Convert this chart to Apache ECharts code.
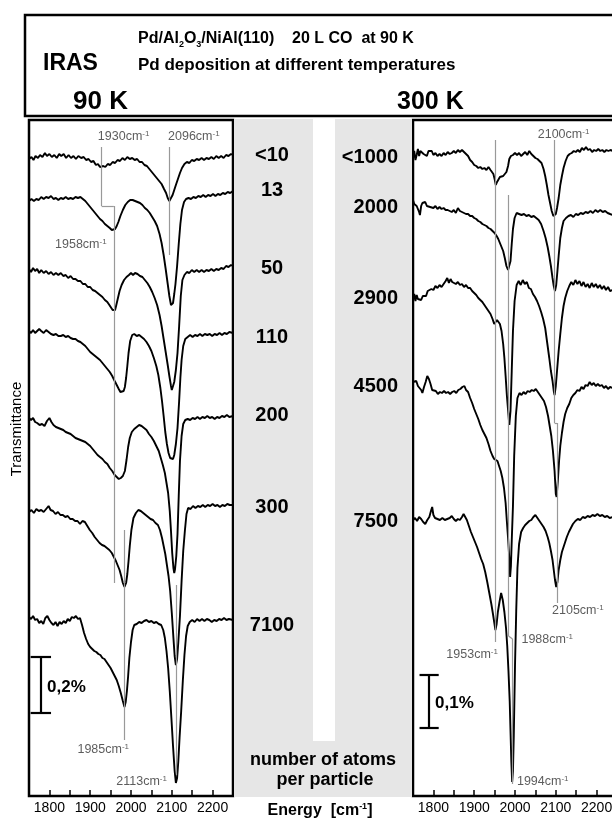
<!DOCTYPE html>
<html lang="en">
<head>
<meta charset="UTF-8"/>
<script src="https://cdn.jsdelivr.net/npm/echarts@6/dist/echarts.min.js"></script>
<title>IRAS Pd/Al2O3/NiAl(110)</title>
<style>
  html, body { margin: 0; padding: 0; background: #fff; }
  #main { width: 612px; height: 819px; }
</style>
</head>
<body>
<div id="main"></div>
<script type="text/javascript">
// wavenumber range of both panels
var wnMin = 1750, wnMax = 2250;

// 90 K deposition, transmittance in arbitrary units (curves offset)
var t90_lt10 = [[1750,637],[1756,639],[1761,636],[1766,640],[1772,638],[1777,641],[1783,639],[1789,643],[1794,640],[1800,642],[1806,639],[1812,641],[1818,638],[1824,642],[1829,640],[1835,642],[1841,638],[1847,641],[1853,638],[1859,640],[1865,637],[1871,640],[1878,638],[1884,639],[1890,636],[1896,637],[1902,634],[1908,635],[1914,631],[1919,632],[1924,629],[1928,627],[1932,630],[1937,629],[1943,632],[1949,631],[1955,634],[1961,633],[1967,636],[1973,635],[1979,638],[1985,636],[1991,639],[1997,637],[2003,638],[2009,636],[2015,637],[2021,634],[2027,634],[2033,631],[2039,630],[2045,627],[2051,624],[2057,621],[2063,618],[2069,615],[2075,612],[2081,607],[2086,603],[2090,598],[2094,595],[2098,597],[2102,601],[2106,606],[2110,611],[2115,617],[2120,623],[2125,628],[2131,632],[2137,634],[2143,633],[2149,636],[2155,635],[2161,637],[2167,636],[2173,638],[2179,636],[2185,638],[2191,637],[2197,639],[2203,637],[2209,640],[2215,638],[2221,640],[2227,638],[2233,641],[2239,640],[2245,642],[2250,641]];
var t90_13 = [[1750,595],[1756,597],[1762,595],[1768,597],[1774,596],[1780,599],[1786,597],[1792,599],[1798,598],[1804,600],[1810,597],[1816,598],[1822,596],[1828,598],[1834,597],[1840,599],[1846,597],[1852,598],[1858,597],[1864,599],[1870,598],[1876,599],[1882,597],[1888,595],[1894,592],[1900,589],[1906,586],[1912,583],[1918,580],[1924,577],[1930,575],[1936,572],[1942,570],[1948,568],[1953,566],[1957,565],[1961,567],[1965,570],[1969,574],[1974,580],[1980,586],[1986,591],[1992,594],[1998,596],[2004,596],[2010,595],[2016,594],[2022,593],[2028,591],[2034,588],[2040,586],[2046,583],[2052,579],[2058,575],[2064,570],[2070,562],[2075,553],[2080,541],[2085,527],[2090,512],[2094,500],[2098,491],[2100,489],[2103,493],[2106,502],[2109,512],[2113,530],[2117,552],[2121,572],[2125,586],[2130,594],[2135,597],[2141,598],[2147,597],[2153,599],[2159,598],[2165,600],[2171,599],[2177,601],[2183,599],[2189,601],[2195,600],[2201,602],[2207,600],[2213,602],[2219,601],[2225,603],[2231,602],[2237,604],[2243,603],[2250,605]];
var t90_50 = [[1750,527],[1755,524],[1760,528],[1765,525],[1770,527],[1775,523],[1780,526],[1786,523],[1792,525],[1798,522],[1804,524],[1810,521],[1816,523],[1822,521],[1828,523],[1834,520],[1840,521],[1846,518],[1852,520],[1858,517],[1864,517],[1870,515],[1876,515],[1882,512],[1888,512],[1894,509],[1900,509],[1906,506],[1912,505],[1918,503],[1924,501],[1930,499],[1936,496],[1942,494],[1947,491],[1951,489],[1955,486],[1958,488],[1961,486],[1964,491],[1968,498],[1972,505],[1977,511],[1983,516],[1989,519],[1995,521],[2000,523],[2005,521],[2010,523],[2016,522],[2022,520],[2028,519],[2034,516],[2040,513],[2046,509],[2052,504],[2058,498],[2064,491],[2070,481],[2075,470],[2080,457],[2085,444],[2090,431],[2094,420],[2098,410],[2100,406],[2103,408],[2106,414],[2110,426],[2114,443],[2118,470],[2122,500],[2126,516],[2131,521],[2137,524],[2143,523],[2149,526],[2155,524],[2161,526],[2167,524],[2173,526],[2179,524],[2185,526],[2191,525],[2197,527],[2203,525],[2209,527],[2215,526],[2221,528],[2227,527],[2233,530],[2239,529],[2245,531],[2250,530]];
var t90_110 = [[1750,465],[1755,463],[1760,466],[1765,463],[1770,465],[1775,467],[1780,465],[1786,463],[1792,466],[1798,464],[1804,462],[1810,461],[1816,462],[1822,460],[1828,460],[1834,461],[1840,459],[1846,460],[1852,458],[1858,457],[1864,457],[1870,455],[1876,454],[1882,452],[1888,450],[1894,447],[1900,444],[1906,442],[1912,440],[1918,438],[1924,436],[1930,433],[1936,430],[1942,427],[1948,424],[1954,420],[1960,415],[1965,411],[1970,407],[1974,404],[1978,403],[1982,405],[1985,409],[1988,418],[1991,430],[1994,443],[1998,455],[2003,461],[2008,462],[2014,460],[2020,461],[2026,459],[2032,457],[2038,454],[2044,450],[2050,445],[2056,438],[2062,430],[2067,421],[2072,408],[2076,395],[2080,380],[2084,364],[2088,352],[2092,343],[2096,338],[2100,336],[2103,337],[2106,341],[2110,352],[2114,368],[2118,395],[2121,418],[2124,436],[2128,450],[2133,457],[2139,459],[2145,461],[2151,459],[2157,461],[2163,460],[2169,462],[2175,460],[2181,462],[2187,461],[2193,462],[2199,460],[2205,462],[2211,461],[2217,463],[2223,461],[2229,463],[2235,462],[2241,464],[2250,463]];
var t90_200 = [[1750,378],[1755,376],[1760,378],[1765,374],[1770,373],[1776,371],[1782,372],[1788,370],[1794,375],[1800,378],[1805,374],[1810,371],[1816,369],[1822,368],[1828,367],[1834,366],[1840,364],[1846,363],[1852,362],[1858,360],[1864,358],[1870,357],[1876,356],[1882,355],[1888,354],[1894,352],[1900,350],[1906,347],[1912,344],[1918,341],[1924,339],[1930,337],[1936,334],[1942,332],[1948,328],[1954,325],[1960,321],[1965,319],[1970,317],[1975,318],[1980,320],[1985,325],[1989,336],[1993,349],[1997,358],[2002,364],[2008,367],[2014,369],[2020,371],[2026,370],[2032,368],[2038,366],[2044,362],[2050,359],[2056,355],[2062,350],[2068,345],[2073,338],[2078,331],[2083,323],[2087,313],[2091,303],[2095,285],[2098,265],[2101,243],[2104,228],[2106,223],[2108,227],[2111,240],[2114,262],[2117,300],[2120,335],[2124,360],[2128,372],[2133,376],[2139,377],[2145,376],[2151,378],[2157,377],[2163,379],[2169,377],[2175,379],[2181,378],[2187,380],[2193,378],[2199,379],[2205,377],[2211,379],[2217,378],[2223,380],[2229,379],[2235,381],[2241,379],[2250,380]];
var t90_300 = [[1750,284],[1756,286],[1762,283],[1768,287],[1774,285],[1780,286],[1786,284],[1792,287],[1798,290],[1803,286],[1809,285],[1815,282],[1821,284],[1827,281],[1833,281],[1839,279],[1845,280],[1851,277],[1857,277],[1863,275],[1869,275],[1875,272],[1881,275],[1887,274],[1893,270],[1899,266],[1905,263],[1911,259],[1917,256],[1923,253],[1929,251],[1935,250],[1941,248],[1947,246],[1953,243],[1958,239],[1963,235],[1968,230],[1972,226],[1976,220],[1980,213],[1984,209],[1988,213],[1991,222],[1994,235],[1997,250],[2001,266],[2006,278],[2012,283],[2018,286],[2024,285],[2030,283],[2036,281],[2042,279],[2048,277],[2054,276],[2060,273],[2066,271],[2071,266],[2076,258],[2080,250],[2084,242],[2088,231],[2092,220],[2096,205],[2100,183],[2104,158],[2107,140],[2110,131],[2113,137],[2116,154],[2120,180],[2124,215],[2128,245],[2132,265],[2136,282],[2140,288],[2146,287],[2152,290],[2158,288],[2164,290],[2170,289],[2176,291],[2182,289],[2188,291],[2194,290],[2200,292],[2206,290],[2212,291],[2218,289],[2224,291],[2230,290],[2236,292],[2242,291],[2250,291]];
var t90_7100 = [[1750,179],[1755,177],[1760,180],[1765,176],[1770,177],[1775,173],[1780,175],[1785,172],[1790,178],[1795,180],[1800,176],[1805,173],[1810,171],[1815,174],[1820,170],[1825,174],[1830,172],[1835,175],[1840,173],[1845,177],[1850,175],[1855,179],[1860,178],[1865,180],[1870,177],[1875,178],[1880,171],[1885,163],[1890,157],[1895,152],[1900,149],[1905,147],[1910,145],[1915,144],[1920,142],[1925,141],[1930,138],[1935,137],[1940,134],[1945,131],[1950,128],[1955,124],[1960,120],[1965,116],[1970,110],[1975,103],[1980,95],[1984,89],[1987,94],[1990,105],[1993,120],[1996,138],[2000,154],[2004,166],[2008,171],[2014,172],[2020,174],[2026,173],[2032,175],[2038,176],[2044,174],[2050,175],[2056,173],[2062,174],[2068,172],[2074,171],[2079,166],[2083,158],[2087,145],[2091,128],[2095,105],[2099,78],[2103,50],[2107,25],[2110,13],[2113,18],[2116,35],[2119,58],[2123,85],[2127,115],[2131,141],[2135,160],[2139,170],[2144,174],[2150,176],[2156,174],[2162,177],[2168,175],[2174,177],[2180,175],[2186,177],[2192,176],[2198,174],[2204,176],[2210,175],[2216,177],[2222,176],[2228,178],[2234,176],[2240,177],[2250,176]];

// 300 K deposition
var t300_lt1000 = [[1750,638],[1753,645],[1756,636],[1759,641],[1762,647],[1765,640],[1768,645],[1772,646],[1776,642],[1780,644],[1784,640],[1788,645],[1792,643],[1796,645],[1800,641],[1805,643],[1810,640],[1815,642],[1820,640],[1825,643],[1830,641],[1835,644],[1840,642],[1845,643],[1850,645],[1855,643],[1860,646],[1865,644],[1870,646],[1875,644],[1880,642],[1885,640],[1890,636],[1895,634],[1900,631],[1905,630],[1910,628],[1915,629],[1920,627],[1925,628],[1930,626],[1935,629],[1940,626],[1944,627],[1947,622],[1950,617],[1953,611],[1956,614],[1959,616],[1963,619],[1967,618],[1971,620],[1975,621],[1979,624],[1983,630],[1986,637],[1990,640],[1995,641],[2000,643],[2005,641],[2010,643],[2015,640],[2020,642],[2025,644],[2030,641],[2035,645],[2040,642],[2045,640],[2050,638],[2055,637],[2060,635],[2065,633],[2070,627],[2074,620],[2078,611],[2082,601],[2086,593],[2090,585],[2094,580],[2097,578],[2100,582],[2103,588],[2107,598],[2111,611],[2115,620],[2119,628],[2124,635],[2129,640],[2134,642],[2139,643],[2144,645],[2149,644],[2154,646],[2159,644],[2164,648],[2169,646],[2174,649],[2179,646],[2184,647],[2189,644],[2194,646],[2199,645],[2204,647],[2209,645],[2214,646],[2219,644],[2224,646],[2229,645],[2234,646],[2240,645],[2250,645]];
var t300_2000 = [[1750,596],[1753,592],[1756,594],[1759,590],[1762,588],[1765,584],[1767,581],[1770,590],[1773,593],[1776,592],[1780,594],[1784,590],[1788,592],[1792,589],[1796,591],[1800,588],[1805,590],[1810,587],[1815,589],[1820,587],[1825,588],[1830,586],[1835,586],[1840,585],[1845,584],[1850,586],[1855,583],[1860,588],[1865,585],[1870,584],[1875,583],[1880,582],[1885,582],[1890,580],[1895,580],[1900,578],[1905,577],[1910,575],[1915,574],[1920,572],[1925,571],[1930,570],[1935,568],[1940,567],[1945,565],[1950,563],[1955,560],[1959,557],[1963,553],[1967,549],[1971,545],[1975,538],[1979,530],[1983,526],[1986,525],[1989,535],[1992,552],[1995,567],[1999,578],[2004,583],[2010,582],[2016,581],[2022,582],[2028,580],[2034,581],[2040,579],[2046,580],[2052,578],[2058,576],[2064,572],[2070,565],[2075,558],[2080,549],[2084,540],[2088,530],[2092,518],[2095,510],[2098,505],[2101,511],[2104,525],[2107,540],[2111,558],[2115,568],[2119,575],[2125,578],[2131,580],[2137,581],[2143,579],[2149,582],[2155,581],[2161,583],[2167,582],[2173,584],[2179,583],[2185,585],[2191,583],[2197,586],[2203,584],[2209,586],[2215,584],[2221,585],[2227,583],[2233,582],[2240,581],[2250,581]];
var t300_2900 = [[1750,496],[1753,502],[1756,495],[1759,501],[1762,497],[1766,499],[1770,496],[1774,500],[1778,502],[1782,500],[1786,505],[1790,503],[1795,507],[1800,506],[1805,510],[1810,508],[1815,511],[1820,509],[1825,512],[1830,515],[1834,518],[1838,513],[1842,517],[1846,514],[1850,516],[1855,512],[1860,514],[1865,511],[1870,512],[1875,509],[1880,511],[1885,508],[1890,508],[1895,505],[1900,503],[1905,501],[1910,498],[1915,496],[1920,494],[1925,491],[1930,488],[1935,485],[1940,482],[1945,477],[1949,472],[1952,470],[1956,476],[1959,478],[1963,472],[1967,465],[1971,452],[1974,438],[1977,420],[1980,401],[1983,386],[1986,371],[1989,385],[1992,425],[1995,465],[1999,495],[2004,511],[2009,515],[2014,511],[2019,516],[2024,512],[2029,514],[2034,508],[2039,507],[2044,502],[2049,499],[2054,495],[2059,490],[2064,484],[2069,477],[2074,468],[2079,453],[2084,438],[2088,425],[2092,415],[2095,405],[2097,401],[2100,410],[2103,425],[2107,445],[2111,462],[2115,478],[2119,490],[2123,498],[2128,505],[2133,510],[2138,514],[2143,511],[2148,516],[2153,512],[2158,515],[2163,510],[2168,514],[2173,509],[2178,512],[2183,508],[2188,513],[2193,509],[2198,512],[2203,508],[2208,511],[2213,507],[2218,510],[2223,506],[2228,509],[2233,505],[2240,506],[2250,505]];
var t300_4500 = [[1750,414],[1754,412],[1758,415],[1762,410],[1766,411],[1770,406],[1773,403],[1777,409],[1781,414],[1785,420],[1789,417],[1793,412],[1797,406],[1801,404],[1806,405],[1811,402],[1816,404],[1821,403],[1826,405],[1831,403],[1836,404],[1841,402],[1846,404],[1851,405],[1856,403],[1861,406],[1866,407],[1871,409],[1876,410],[1880,406],[1885,404],[1890,398],[1895,393],[1900,387],[1905,382],[1910,377],[1915,371],[1920,366],[1925,362],[1930,358],[1935,352],[1940,345],[1945,340],[1949,337],[1953,338],[1957,335],[1961,330],[1965,325],[1969,318],[1973,308],[1977,293],[1980,275],[1983,258],[1986,238],[1988,219],[1990,230],[1992,255],[1995,290],[1998,340],[2002,380],[2006,398],[2011,403],[2016,401],[2021,404],[2026,402],[2031,405],[2036,404],[2041,406],[2046,405],[2051,407],[2056,404],[2061,401],[2066,398],[2071,395],[2076,389],[2081,380],[2085,370],[2089,360],[2093,345],[2097,325],[2100,302],[2102,299],[2105,315],[2108,335],[2111,350],[2115,363],[2119,374],[2123,382],[2128,388],[2133,392],[2138,398],[2143,401],[2148,403],[2153,406],[2158,405],[2163,409],[2168,407],[2173,411],[2178,410],[2183,414],[2188,411],[2193,413],[2198,410],[2203,412],[2208,410],[2213,411],[2218,408],[2223,410],[2228,407],[2233,409],[2240,408],[2250,408]];
var t300_7500 = [[1750,276],[1755,278],[1760,275],[1765,279],[1770,277],[1775,274],[1780,272],[1785,276],[1790,279],[1794,285],[1797,289],[1800,281],[1804,278],[1810,277],[1816,276],[1822,278],[1828,276],[1834,277],[1840,278],[1845,280],[1850,277],[1855,275],[1860,277],[1865,276],[1870,279],[1874,282],[1878,279],[1882,276],[1887,270],[1892,264],[1897,259],[1902,254],[1907,249],[1912,243],[1917,237],[1922,232],[1927,224],[1932,214],[1937,203],[1942,192],[1946,182],[1949,174],[1952,166],[1955,172],[1958,184],[1962,194],[1966,203],[1970,196],[1974,184],[1978,168],[1981,150],[1984,125],[1987,95],[1989,65],[1991,35],[1993,14],[1995,25],[1997,60],[2000,130],[2003,185],[2006,228],[2010,252],[2015,264],[2020,268],[2025,271],[2030,273],[2035,275],[2040,276],[2045,279],[2050,281],[2055,278],[2060,275],[2065,272],[2070,269],[2075,265],[2080,259],[2084,253],[2088,245],[2092,236],[2095,226],[2098,216],[2101,209],[2104,214],[2107,226],[2111,236],[2115,244],[2119,249],[2123,254],[2127,259],[2132,264],[2137,268],[2142,272],[2148,275],[2154,277],[2160,276],[2166,279],[2172,278],[2178,280],[2184,279],[2190,281],[2196,280],[2202,282],[2208,280],[2214,281],[2220,279],[2226,280],[2232,278],[2240,279],[2250,278]];

// particle sizes (atoms per particle)
var sizes90 = ['<10', '13', '50', '110', '200', '300', '7100'];
var sizes300 = ['<1000', '2000', '2900', '4500', '7500'];

// peak marker lines (wavenumber, transmittance a.u.)
var peakLines90 = [
    [[1928,649],[1928,590],[1958,590],[1958,213]],
    [[2094,649],[2094,541]],
    [[1984,266],[1984,56]],
    [[2111,211],[2111,21]]
];
var peakLines300 = [
    [[1951,656],[1951,154]],
    [[1984,601],[1984,160],[1994,157],[1994,12]],
    [[2097,656],[2097,373],[2103,373],[2103,193]]
];
// peak labels: [wavenumber, a.u., text]
var peakLabels90 = [[1982,659,'1930'],[2154,659,'2096'],[1877,551,'1958'],[1932,46,'1985'],[2026,14,'2113']];
var peakLabels300 = [[2119,661,'2100'],[2154,185,'2105'],[2079,156,'1988'],[1895,141,'1953'],[2068,14,'1994']];

// scale bars: [x, low, high, capFrom, capTo]  (0,2 % and 0,1 %)
var scaleBar90 = [1779, 83, 139, 1754, 1804];
var scaleBar300 = [1789, 68, 121, 1766, 1813];

var FONT = '"Liberation Sans", Arial, Helvetica, sans-serif';

function trace(data, gi) {
    return {
        type: 'line', xAxisIndex: gi, yAxisIndex: gi, data: data,
        symbol: 'none', z: 4, animation: false, silent: true,
        lineStyle: {color: '#000', width: 1.9}
    };
}

function segments(paths) {
    var segs = [];
    paths.forEach(function (p) {
        for (var i = 0; i < p.length - 1; i++) {
            segs.push([{coord: p[i]}, {coord: p[i + 1]}]);
        }
    });
    return segs;
}

function labelSeries(labels, paths, gi) {
    return {
        type: 'scatter', xAxisIndex: gi, yAxisIndex: gi, z: 2, animation: false, silent: true,
        symbolSize: 0, data: labels,
        label: {
            show: true, position: 'inside', align: 'center', verticalAlign: 'middle',
            formatter: function (p) { return '{n|' + p.data[2] + 'cm}{s|-1}'; },
            rich: {
                n: {fontSize: 12.5, color: '#333', fontFamily: FONT, lineHeight: 14},
                s: {fontSize: 8, color: '#333', fontFamily: FONT, lineHeight: 14, verticalAlign: 'top'}
            }
        },
        markLine: {
            silent: true, symbol: ['none', 'none'], animation: false,
            label: {show: false},
            lineStyle: {color: '#999', width: 1.2, type: 'solid'},
            data: segments(paths)
        }
    };
}

function scaleSeries(b, gi) {
    return {
        type: 'line', xAxisIndex: gi, yAxisIndex: gi, data: [], z: 5, animation: false,
        markLine: {
            silent: true, symbol: ['none', 'none'], animation: false,
            label: {show: false},
            lineStyle: {color: '#000', width: 2.2, type: 'solid'},
            data: segments([
                [[b[0], b[1]], [b[0], b[2]]],
                [[b[3], b[1]], [b[4], b[1]]],
                [[b[3], b[2]], [b[4], b[2]]]
            ])
        }
    };
}

function xAxis(gi) {
    return {
        type: 'value', gridIndex: gi, min: wnMin, max: wnMax, interval: 50,
        axisLine: {show: false},
        splitLine: {show: false},
        axisTick: {inside: true, length: 6, lineStyle: {color: '#000', width: 1.5}},
        axisLabel: {
            fontSize: 14, color: '#000', fontFamily: FONT, margin: 5,
            hideOverlap: false,
            formatter: function (v) { return v % 100 === 0 ? String(v) : ''; }
        }
    };
}

function yAxis(gi) {
    return {type: 'value', gridIndex: gi, min: 0, max: 676, show: false};
}

var gridStyle = {show: true, borderColor: '#000', borderWidth: 2.5, top: 120, height: 676, width: 204,
    containLabel: false, outerBoundsMode: 'none'};

var option = {
    animation: false,
    backgroundColor: '#fff',
    grid: [
        Object.assign({left: 29}, gridStyle),
        Object.assign({left: 413}, gridStyle)
    ],
    xAxis: [xAxis(0), xAxis(1)],
    yAxis: [yAxis(0), yAxis(1)],
    series: [
        trace(t90_lt10, 0), trace(t90_13, 0), trace(t90_50, 0), trace(t90_110, 0),
        trace(t90_200, 0), trace(t90_300, 0), trace(t90_7100, 0),
        trace(t300_lt1000, 1), trace(t300_2000, 1), trace(t300_2900, 1),
        trace(t300_4500, 1), trace(t300_7500, 1),
        labelSeries(peakLabels90, peakLines90, 0),
        labelSeries(peakLabels300, peakLines300, 1),
        scaleSeries(scaleBar90, 0),
        scaleSeries(scaleBar300, 1)
    ],
    graphic: []
};

// header box and centre band
var g = option.graphic;
g.push({type: 'rect', z: 0, shape: {x: 25, y: 15, width: 650, height: 101},
    style: {fill: '#fff', stroke: '#000', lineWidth: 2.5}});
g.push({type: 'rect', z: 0, shape: {x: 234, y: 119, width: 178, height: 678}, style: {fill: '#e6e6e6'}});
g.push({type: 'rect', z: 0, shape: {x: 313, y: 119, width: 22, height: 622}, style: {fill: '#fff'}});

function txt(x, y, text, size, weight, align, extra) {
    var el = {type: 'text', x: x, y: y, z: 10, style: {
        text: text, fontSize: size, fontWeight: weight || 'normal', fontFamily: FONT,
        fill: '#000', align: align || 'left', verticalAlign: 'middle'
    }};
    if (extra) Object.assign(el.style, extra);
    return el;
}

g.push(txt(43, 64, 'IRAS', 23, 'bold'));
g.push(txt(138, 39, '{a|Pd/Al}{b|2}{a|O}{b|3}{a|/NiAl(110)    20 L CO  at 90 K}', 16, 'bold', 'left', {
    rich: {
        a: {fontSize: 16, fontWeight: 'bold', fontFamily: FONT, lineHeight: 20, verticalAlign: 'middle'},
        b: {fontSize: 9, fontWeight: 'bold', fontFamily: FONT, lineHeight: 20, verticalAlign: 'bottom'}
    }
}));
g.push(txt(138, 65, 'Pd deposition at different temperatures', 17, 'bold'));
g.push(txt(73, 102, '90 K', 26, 'bold'));
g.push(txt(397, 102, '300 K', 25, 'bold'));

// particle size labels
var ys90 = [155, 190, 268, 337, 415, 507, 625];
var ys300 = [157, 207, 298, 386, 521];
sizes90.forEach(function (s, i) { g.push(txt(272, ys90[i], s, 20, 'bold', 'center')); });
sizes300.forEach(function (s, i) { g.push(txt(398, ys300[i], s, 20, 'bold', 'right')); });

g.push(txt(323, 760, 'number of atoms', 18, 'bold', 'center'));
g.push(txt(325, 780, 'per particle', 18, 'bold', 'center'));
g.push(txt(320, 811, '{a|Energy  [cm}{b|-1}{a|]}', 16, 'bold', 'center', {
    rich: {
        a: {fontSize: 16, fontWeight: 'bold', fontFamily: FONT, lineHeight: 18},
        b: {fontSize: 9, fontWeight: 'bold', fontFamily: FONT, lineHeight: 18, verticalAlign: 'top'}
    }
}));
g.push(txt(47, 687, '0,2%', 17, 'bold'));
g.push(txt(435, 703, '0,1%', 17, 'bold'));
g.push({type: 'text', x: 17, y: 429, rotation: Math.PI / 2, z: 10, style: {
    text: 'Transmittance', fontSize: 15, fontFamily: FONT, fill: '#000',
    align: 'center', verticalAlign: 'middle'
}});

var myChart = echarts.init(document.getElementById('main'));
myChart.setOption(option);
</script>
</body>
</html>
